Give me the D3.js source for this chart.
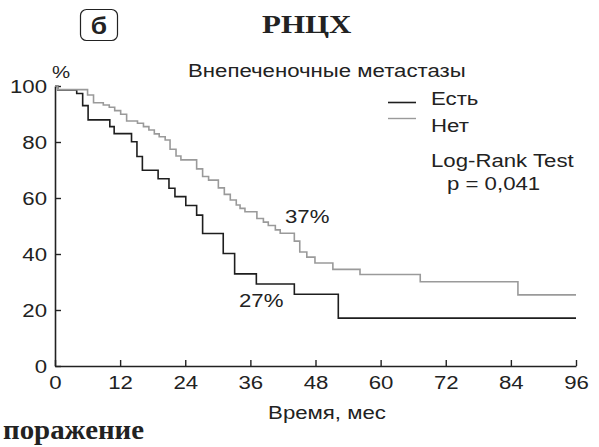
<!DOCTYPE html>
<html>
<head>
<meta charset="utf-8">
<script src="https://cdn.jsdelivr.net/npm/d3@7"></script>
<style>
  html, body { margin: 0; padding: 0; background: #fff; }
  svg { display: block; }
</style>
</head>
<body>
<svg id="chart" width="599" height="447"></svg>
<script>
// Kaplan–Meier survival steps: time (months) and survival (%) after each event
const groupNames = ["Есть", "Нет"];
const timesPresent = [0, 0.5, 4.0, 5.1, 6.1, 10.1, 10.9, 14.1, 15.1, 16.1, 19.0, 21.0, 22.1, 24.1, 26.1, 27.2, 31.0, 33.1, 37.1, 44.1, 52.2, 96];
const survivalPresent = [100, 98.6, 97.3, 93.0, 87.9, 85.5, 83.0, 80.1, 74.8, 69.9, 66.9, 63.5, 60.5, 57.3, 53.9, 47.3, 40.2, 32.9, 29.3, 25.6, 17.1, 17.1];
const timesAbsent = [0, 0.5, 6.0, 7.1, 8.9, 10.0, 11.0, 12.1, 13.2, 15.2, 16.3, 17.3, 18.3, 19.2, 20.3, 21.2, 22.3, 23.2, 26.1, 27.2, 28.3, 30.1, 31.2, 32.3, 33.4, 34.1, 35.0, 37.2, 38.4, 39.3, 40.6, 41.5, 44.1, 45.1, 46.4, 47.9, 51.2, 56.2, 67.3, 85.3, 96];
const survivalAbsent = [100, 98.7, 96.8, 94.0, 93.2, 92.4, 91.2, 89.9, 87.5, 86.7, 85.5, 84.3, 82.9, 81.9, 80.7, 77.4, 75.0, 73.6, 70.4, 67.7, 66.4, 63.6, 61.3, 59.3, 57.5, 56.3, 55.1, 52.7, 51.4, 50.2, 48.6, 47.4, 44.6, 40.7, 38.9, 36.8, 34.5, 32.7, 30.1, 25.4, 25.4];
const xTicks = [0, 12, 24, 36, 48, 60, 72, 84, 96];
const yTicks = [0, 20, 40, 60, 80, 100];
const seriesColors = ["#1e1e1e", "#9a9a9a"];

const svg = d3.select("#chart");
const sans = "'Liberation Sans', Arial, sans-serif";
const serif = "'Liberation Serif', 'Times New Roman', serif";
const ink = "#222";
const stretch = 1.2;   // the typeface is set slightly wide

const x = d3.scaleLinear().domain([0, 96]).range([55, 576]);
const y = d3.scaleLinear().domain([0, 100]).range([366, 86]);

function label(px, py, str, opts = {}) {
  return svg.append("text")
    .attr("transform", `translate(${px},${py}) scale(${opts.sx || stretch},1)`)
    .attr("text-anchor", opts.anchor || "start")
    .attr("font-family", opts.family || sans)
    .attr("font-weight", opts.weight || "normal")
    .attr("font-size", opts.size || 18.5)
    .attr("fill", ink)
    .text(str);
}

// Panel letter in a rounded box and the centre name
svg.append("rect").attr("x", 80.5).attr("y", 9.5).attr("width", 37).attr("height", 31)
  .attr("rx", 6).attr("fill", "none").attr("stroke", ink).attr("stroke-width", 1.2);
label(99, 33.5, "б", { anchor: "middle", weight: "bold", size: 24, sx: 1.1 });
label(262, 33, "РНЦХ", { family: serif, weight: "bold", size: 26, sx: 1.19 });

// Subtitle and unit
label(188, 76.5, "Внепеченочные метастазы");
label(52, 78, "%", { size: 17 });

// Axes
const xAxis = d3.axisBottom(x).tickValues(xTicks).tickSizeInner(-6).tickSizeOuter(0).tickPadding(10);
const yAxis = d3.axisLeft(y).tickValues(yTicks).tickSizeInner(-6).tickSizeOuter(0).tickPadding(8);

const gx = svg.append("g").attr("transform", `translate(0,${y(0)})`).call(xAxis);
const gy = svg.append("g").attr("transform", `translate(${x(0)},0)`).call(yAxis);
[gx, gy].forEach(g => {
  g.select(".domain").attr("stroke", ink).attr("stroke-width", 1.6);
  g.selectAll(".tick line").attr("stroke", ink).attr("stroke-width", 1.4);
  g.selectAll(".tick text").attr("font-family", sans).attr("font-size", 18.5).attr("fill", ink);
});
gy.selectAll(".tick text").attr("dy", "0.36em")
  .attr("x", -8 / stretch).attr("transform", `scale(${stretch},1)`);
gx.selectAll(".tick text").attr("dy", "0.72em").attr("transform", `scale(${stretch},1)`);

label(327, 418.5, "Время, мес", { anchor: "middle" });

// Survival curves
const line = d3.line().x(d => x(d[0])).y(d => y(d[1])).curve(d3.curveStepAfter);
const series = [
  d3.zip(timesPresent, survivalPresent),
  d3.zip(timesAbsent, survivalAbsent)
];
svg.append("path").datum(series[0]).attr("d", line).attr("fill", "none")
  .attr("stroke", seriesColors[0]).attr("stroke-width", 1.6);
svg.append("path").datum(series[1]).attr("d", line).attr("fill", "none")
  .attr("stroke", seriesColors[1]).attr("stroke-width", 1.6);

// Legend
groupNames.forEach((name, i) => {
  const ly = 102.5 + i * 16;
  svg.append("line").attr("x1", 388).attr("x2", 416).attr("y1", ly).attr("y2", ly)
    .attr("stroke", seriesColors[i]).attr("stroke-width", i === 0 ? 1.6 : 1.4);
  label(431, 104.5 + i * 27, name);
});
label(431, 166.5, "Log-Rank Test");
label(447, 189.5, "p = 0,041");

// Survival rate annotations
label(285, 223, "37%");
label(239, 307, "27%");

// Caption fragment at the bottom
label(3, 439, "поражение", { family: serif, weight: "bold", size: 27, sx: 1.07 });
</script>
</body>
</html>
